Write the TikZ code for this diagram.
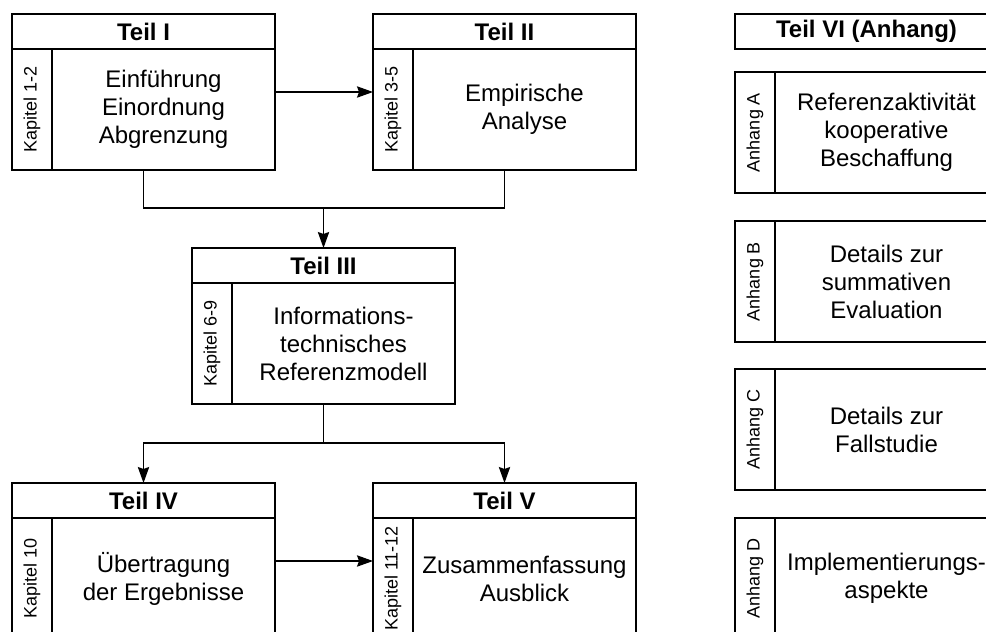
\documentclass[tikz,border=0pt]{standalone}
\usepackage{fontspec}
\setmainfont{Liberation Sans}
\usetikzlibrary{arrows.meta,fit}

\tikzset{
  frame/.style={draw, line width=0.9pt, inner sep=0pt, outer sep=0pt},
  headbox/.style={frame, minimum width=197.25pt, minimum height=26.25pt,
    font=\fontsize{18}{21}\selectfont\bfseries},
  sidebox/.style={frame, minimum width=30pt, minimum height=90.75pt},
  sidetext/.style={rotate=90, inner sep=0pt, font=\fontsize{13.5}{16}\selectfont},
  bodybox/.style={frame, minimum width=167.25pt, minimum height=90.75pt,
    align=center, font=\fontsize{18}{21}\selectfont},
  link/.style={line width=0.9pt},
  arr/.style={link, -{Stealth[length=12pt,width=8.5pt,inset=1.5pt]}},
}

% a part of the thesis: title bar, rotated chapter strip, contents
\newcommand\partbox[6]{% name, left, top, title, chapters, contents
  \node[headbox, anchor=north west] (#1h) at (#2,#3) {#4};
  \node[sidebox, anchor=north west] (#1s) at (#1h.south west) {};
  \node[sidetext] (#1k) at (#1s.center) {#5};
  \node[bodybox, anchor=north west] (#1b) at (#1s.north east) {#6};
  \node[fit=(#1h)(#1b), inner sep=0pt, outer sep=0pt] (#1) {};
}

% an appendix: rotated strip and contents, no title bar
\newcommand\annexbox[5]{% name, left, top, label, contents
  \node[sidebox, anchor=north west] (#1s) at (#2,#3) {};
  \node[sidetext] (#1k) at (#1s.center) {#4};
  \node[bodybox, anchor=north west] (#1b) at (#1s.north east) {#5};
}

\begin{document}
\begin{tikzpicture}[x=0.75pt, y=-0.75pt]
  \useasboundingbox (0,0) rectangle (986,632);
  \clip (0,0) rectangle (986,632);

  \partbox{t1}{12}{14}{Teil I}{Kapitel 1-2}{Einführung\\Einordnung\\Abgrenzung}
  \partbox{t2}{373}{14}{Teil II}{Kapitel 3-5}{Empirische\\Analyse}
  \partbox{t3}{192}{248}{Teil III}{Kapitel 6-9}{Informations-\\technisches\\Referenzmodell}
  \partbox{t4}{12}{483}{Teil IV}{Kapitel 10}{Übertragung\\der Ergebnisse}
  \partbox{t5}{373}{483}{Teil V}{Kapitel 11-12}{Zusammenfassung\\Ausblick}

  \node[headbox, anchor=north west] (t6h) at (735,14) {Teil VI (Anhang)};
  \annexbox{aA}{735}{72}{Anhang A}{Referenzaktivität\\kooperative\\Beschaffung}
  \annexbox{aB}{735}{221}{Anhang B}{Details zur\\summativen\\Evaluation}
  \annexbox{aC}{735}{369}{Anhang C}{Details zur\\Fallstudie}
  \annexbox{aD}{735}{518}{Anhang D}{Implementierungs-\\aspekte}

  % connectors
  \draw[arr] (t1.east) -- (t2.west);
  \path (t3.north) ++(0,-40) coordinate (m1);
  \draw[link] (t1.south) |- (m1) -| (t2.south);
  \draw[arr] (m1) -- (t3.north);
  \path (t3.south) ++(0,39) coordinate (m2);
  \draw[link] (t3.south) -- (m2);
  \draw[arr] (m2) -| (t4.north);
  \draw[arr] (m2) -| (t5.north);
  \draw[arr] (t4.east) -- (t5.west);
\end{tikzpicture}
\end{document}
